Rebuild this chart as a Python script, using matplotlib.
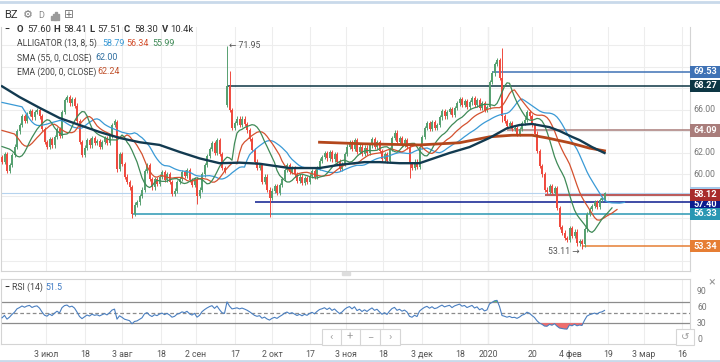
import numpy as np
import matplotlib
matplotlib.use("Agg")
import matplotlib.pyplot as plt
from matplotlib.patches import Rectangle
from matplotlib.transforms import blended_transform_factory

plt.rcParams["font.family"] = ["Roboto", "DejaVu Sans"]

# daily closes of BZ left to right
closes = [
    61.2, 61.9, 60.3, 60.9, 61.8, 62.6, 64.0, 64.6, 65.4, 65.0,
    65.6, 65.9, 65.3, 65.8, 66.0, 65.4, 64.2, 63.0, 62.6, 63.3,
    62.7, 63.5, 64.2, 63.6, 65.8, 66.9, 67.2, 66.6, 67.0, 66.4,
    65.0, 63.0, 61.8, 62.5, 63.2, 62.7, 63.4, 62.9, 63.1, 62.6,
    63.0, 63.4, 62.9, 63.6, 64.6, 65.0, 60.5, 61.9, 61.0, 59.8,
    59.3, 58.8, 56.3, 57.2, 57.4, 58.0, 58.6, 60.3, 60.9, 59.6,
    58.8, 59.6, 59.1, 59.8, 60.2, 59.5, 60.0, 59.3, 58.2, 58.5,
    59.3, 59.6, 60.2, 59.9, 60.4, 59.5, 59.0, 59.6, 58.0, 58.6,
    60.0, 60.9, 61.7, 62.4, 62.9, 62.0, 63.2, 61.9, 60.6, 60.3,
    68.27, 66.0, 64.3, 64.8, 65.2, 64.6, 65.2, 64.7, 64.1, 63.3,
    62.3, 61.2, 60.6, 60.9, 59.3, 59.8, 58.6, 57.8, 58.5, 58.9,
    58.3, 59.0, 59.6, 60.4, 60.9, 60.2, 60.6, 60.0, 59.4, 59.8,
    59.2, 59.7, 59.3, 59.9, 60.3, 59.8, 60.6, 61.3, 61.6, 62.0,
    61.5, 62.1, 61.4, 61.9, 61.2, 60.5, 61.0, 61.9, 62.6, 63.0,
    62.4, 63.2, 62.1, 62.6, 61.9, 62.5, 62.0, 62.7, 63.3, 62.6,
    63.0, 62.2, 61.4, 61.9, 61.3, 62.4, 63.4, 63.9, 63.0, 63.4,
    62.8, 63.2, 62.6, 61.0, 60.6, 61.2, 60.7, 62.6, 63.5, 64.3,
    64.8, 64.2, 64.9, 64.3, 64.6, 65.3, 65.9, 65.4, 65.8, 66.1,
    65.5, 66.2, 66.6, 67.0, 66.5, 66.8, 66.3, 66.7, 67.1, 66.5,
    66.9, 66.2, 66.6, 66.0, 66.3, 68.6, 69.4, 70.3, 70.6, 69.0,
    65.4, 65.0, 64.5, 64.8, 64.2, 64.3, 63.8, 64.2, 64.8, 65.1,
    65.8, 65.4, 64.6, 63.8, 62.2, 60.8, 60.0, 58.6, 58.4, 58.9,
    58.3, 58.7, 56.9, 55.1, 54.6, 54.1, 53.9, 55.0, 54.3, 54.7,
    53.6, 53.8, 53.5, 54.9, 56.3, 56.8, 57.1, 57.4, 57.0, 57.6,
    57.8, 58.30,
]
first_open = 61.6
open_gaps = {46: 64.9, 90: 66.5, 91: 68.2, 241: 57.60}
high_marks = {90: 71.95, 91: 69.6, 200: 71.75, 241: 58.41}
low_marks = {46: 60.2, 52: 55.96, 78: 57.3, 90: 66.3, 107: 56.05,
             163: 59.7, 200: 64.9, 232: 53.11, 241: 57.51}

# alligator lines at the left edge of the chart (seed values)
jaw_seed, teeth_seed, lips_seed = 66.7, 64.1, 62.6

# SMA 55 and EMA 200 (bar index, value)
sma_idx = [0, 7, 15, 23, 31, 39, 47, 55, 63, 71, 79, 87, 95, 103, 115, 127, 135,
           145, 151, 159, 167, 179, 187, 195, 202, 207, 212, 219, 223, 228, 231, 236, 241]
sma_vals = [68.2, 67.2, 66.2, 65.25, 64.6, 63.95, 63.4, 63.0, 62.75, 62.1, 61.5, 61.05,
            61.1, 61.0, 60.6, 60.6, 60.9, 61.15, 61.15, 61.05, 61.05, 62.0, 62.55, 63.4,
            64.3, 64.6, 64.7, 64.4, 64.05, 63.5, 63.2, 62.55, 62.0]
ema_idx = [127, 145, 167, 175, 183, 195, 204, 212, 218, 222, 227, 235, 241]
ema_vals = [63.0, 62.85, 62.75, 62.85, 62.95, 63.5, 63.65, 63.65, 63.4, 63.2, 62.95,
            62.45, 62.2]

# price levels drawn on the chart: (price, first bar, colour)
levels = [(69.53, 196, "#3f72b5"), (68.27, 90, "#0d3644"), (64.09, 202, "#a97d7b"),
          (57.40, 101, "#0c1b8e"), (56.33, 52, "#2a97b3"), (53.34, 232, "#e67e34"),
          (58.12, 217, "#a82c2c")]
last_price = 58.30
scale_labels = [60, 62, 66]

xtick_pos = [17.6, 33.2, 48, 63.6, 77.6, 93.2, 108, 123.2, 137.6, 152.4, 168, 183.2,
             194.4, 212, 227.2, 242.4, 256.8, 272]
xtick_labels = ["3 июл", "18", "3 авг", "18", "2 сен", "17", "2 окт", "17", "3 ноя",
                "18", "3 дек", "18", "2020", "20", "4 фев", "19", "3 мар", "16"]

UP, DOWN = "#56a070", "#ef4a3e"
JAW, TEETH, LIPS = "#3a9ad6", "#d4512f", "#3f8a57"

W, H = 720, 362
fig = plt.figure(figsize=(W / 100, H / 100), dpi=100)


def box(l, t, r, b):
    return [l / W, 1 - b / H, (r - l) / W, (b - t) / H]


def put(px, py, s, **kw):
    kw.setdefault("size", 6.5)
    kw.setdefault("color", "#333333")
    fig.text(px / W, 1 - py / H, s, va="center", **kw)


ax = fig.add_axes(box(1, 27, 690, 271))
ax_r = fig.add_axes(box(1, 279, 690, 344))

# candles
n = len(closes)
idx = np.arange(n)
c = np.array(closes)
o = np.r_[first_open, c[:-1]]
for k, v in open_gaps.items():
    o[k] = v
hi = np.maximum(o, c) + 0.2
lo = np.minimum(o, c) - 0.2
for k, v in high_marks.items():
    hi[k] = v
for k, v in low_marks.items():
    lo[k] = v
col = np.where(c >= o, UP, DOWN)
ax.vlines(idx, lo, hi, colors=col, lw=0.7, zorder=3)
ax.bar(idx, np.maximum(np.abs(c - o), 0.07), bottom=np.minimum(o, c), width=0.62,
       color=col, lw=0, zorder=3)


def smma(values, period, seed):
    out, s = [], seed
    for v in values:
        s = (s * (period - 1) + v) / period
        out.append(s)
    return np.array(out)


median = (hi + lo) / 2
for period, shift, seed, color in [(13, 8, jaw_seed, JAW), (8, 5, teeth_seed, TEETH),
                                   (5, 3, lips_seed, LIPS)]:
    line = smma(median, period, seed)
    ax.plot(np.r_[0, idx + shift], np.r_[seed, line], color=color, lw=0.9, zorder=4)

ax.plot(sma_idx, sma_vals, color="#123a50", lw=1.7, zorder=4.5)
ax.plot(ema_idx, ema_vals, color="#b3471c", lw=2.0, zorder=4.4)

xmax = 275.2
ax.hlines(last_price, -1, xmax, color="#b6d3ee", lw=0.8, zorder=2)
for price, start, color in levels:
    ax.hlines(price, start, xmax, color=color, lw=1.1, zorder=2.6)

ax.set_xlim(-0.4, xmax)
ax.set_ylim(51.03, 73.71)
ax.set_xticks(xtick_pos)
ax.set_yticks(np.arange(52, 74, 2))
ax.tick_params(length=0, labelbottom=False, labelleft=False)
ax.grid(True, color="#ededed", lw=0.8, zorder=0)
ax.axvline(194.4, color="#b8b8b8", lw=0.8, zorder=1)
for side, sp in ax.spines.items():
    sp.set_color("#d4d4d4")
    sp.set_linewidth(0.8)
ax.spines["top"].set_visible(False)

ax.text(90.9, 71.95, "← 71.95", size=6.3, color="#555555", va="center", zorder=6)
ax.text(231.2, 52.85, "53.11 →", size=6.3, color="#555555", va="center", ha="right",
        zorder=6)

# right-hand price scale and level tags
bt = blended_transform_factory(fig.transFigure, ax.transData)
for v in scale_labels:
    ax.text(693 / W, v, f"{v:.2f}", transform=bt, size=6.3, color="#777777",
            va="center", zorder=2, clip_on=False)
tags = [(p, col_) for p, _, col_ in levels]
tags.insert(6, (last_price, "#a6c9ea"))
for price, color in tags:
    ax.add_patch(Rectangle((690 / W, price - 0.56), 30 / W, 1.12, transform=bt,
                           facecolor=color, edgecolor="none", clip_on=False, zorder=5))
for price, color in tags:
    if price in (last_price, 57.40):
        continue
    ax.text(705 / W, price, f"{price:.2f}", transform=bt, size=6.6, color="white",
            ha="center", va="center", weight="bold", zorder=6, clip_on=False)
# 57.40 tag sits under the 58.12 one, only its lower half shows
ax.text(705 / W, 57.22, "57.40", transform=bt, size=6.6, color="white",
        ha="center", va="center", weight="bold", zorder=5.5, clip_on=False)
ax.add_patch(Rectangle((690 / W, 58.12 - 0.56), 30 / W, 1.12, transform=bt,
                       facecolor="#a82c2c", edgecolor="none", clip_on=False, zorder=5.8))

# RSI panel
gains = np.clip(np.diff(c, prepend=c[0]), 0, None)
losses = np.clip(-np.diff(c, prepend=c[0]), 0, None)
ag, al = 0.28, 0.42
rsi = []
for g, l in zip(gains, losses):
    ag = (ag * 13 + g) / 14
    al = (al * 13 + l) / 14
    rsi.append(100 - 100 / (1 + ag / al))
rsi = np.array(rsi)

ax_r.plot(idx, rsi, color="#4a7fc0", lw=0.8, zorder=4)
ax_r.fill_between(idx, rsi, 70, where=rsi > 70, interpolate=True, color="#56c95a",
                  lw=0, zorder=3)
ax_r.fill_between(idx, rsi, 30, where=rsi < 30, interpolate=True, color="#ef6f6f",
                  lw=0, zorder=3)
ax_r.axhline(70, color="#8c8c8c", lw=0.9, zorder=2)
ax_r.axhline(30, color="#8c8c8c", lw=0.9, zorder=2)
ax_r.axhline(50, color="#8c8c8c", lw=0.9, ls=(0, (3, 2)), zorder=2)
ax_r.axvline(194.4, color="#b8b8b8", lw=0.8, zorder=1)
ax_r.set_xlim(-0.4, xmax)
ax_r.set_ylim(-9.45, 113.4)
ax_r.set_xticks(xtick_pos, labels=xtick_labels)
ax_r.set_yticks([])
ax_r.tick_params(axis="x", length=0, labelsize=6.3, labelcolor="#555555", pad=4)
ax_r.grid(True, axis="x", color="#ededed", lw=0.8, zorder=0)
for sp in ax_r.spines.values():
    sp.set_color("#d4d4d4")
    sp.set_linewidth(0.8)
bt_r = blended_transform_factory(fig.transFigure, ax_r.transData)
for v in (90, 60, 30, 0):
    ax_r.text(697 / W, v, str(v), transform=bt_r, size=6.2, color="#777777",
              va="center", clip_on=False)

# toolbar and legend texts
put(4, 15, "BZ", size=8)
put(23, 15, "⚙", size=8, color="#7a7a7a")
put(38, 16, "D", size=6.5, color="#8a8a8a")
for k, hgt in enumerate([4, 6, 8, 5]):
    fig.add_artist(Rectangle(((51 + 2.2 * k) / W, 1 - 19.5 / H), 1.3 / W, hgt / H,
                             transform=fig.transFigure, color="#9a9a9a"))
put(64, 15, "⊞", size=8.5, color="#7a7a7a")

put(4, 29, "−", weight="bold")
for px, s, bold in [(17, "O", True), (27, "57.60", False), (53, "H", True),
                    (63, "58.41", False), (89, "L", True), (97, "57.51", False),
                    (124, "C", True), (134, "58.30", False), (162, "V", True),
                    (170, "10.4k", False)]:
    put(px, 29, s, size=6.8, weight="bold" if bold else "normal")
put(17, 43, "ALLIGATOR (13, 8, 5)", size=6.2, color="#444444")
put(102, 43, "58.79", size=6.4, color=JAW)
put(126, 43, "56.34", size=6.4, color=TEETH)
put(152, 43, "55.99", size=6.4, color=LIPS)
put(17, 58, "SMA (55, 0, CLOSE)", size=6.2, color="#444444")
put(95, 58, "62.00", size=6.4, color="#2f6e9f")
put(17, 72, "EMA (200, 0, CLOSE)", size=6.2, color="#444444")
put(97, 72, "62.24", size=6.4, color="#c0502a")

put(4, 287, "−", weight="bold", size=6.5)
put(12, 287, "RSI (14)", size=6.3, color="#444444")
put(45, 287, "51.5", size=6.3, color="#3b78c2")
put(708, 282, "×", size=9, color="#9a9a9a")

# navigation buttons in the RSI pane
fig.add_artist(Rectangle((322 / W, 1 - 345 / H), 78 / W, 16 / H, transform=fig.transFigure,
                         facecolor="white", edgecolor="#d6d6d6", lw=0.8))
for px in (341, 360, 380):
    fig.add_artist(plt.Line2D([px / W, px / W], [1 - 345 / H, 1 - 329 / H],
                              transform=fig.transFigure, color="#d6d6d6", lw=0.8))
for px, s in [(331, "‹"), (350, "+"), (370, "−"), (390, "›")]:
    fig.text(px / W, 1 - 337 / H, s, ha="center", va="center", size=8, color="#a0a0a0")
fig.add_artist(Rectangle((676 / W, 1 - 345 / H), 18 / W, 16 / H, transform=fig.transFigure,
                         facecolor="white", edgecolor="#d6d6d6", lw=0.8))
fig.text(685 / W, 1 - 337 / H, "↺", ha="center", va="center", size=7.5, color="#a0a0a0")
fig.add_artist(Rectangle((342 / W, 1 - 275 / H), 8 / W, 3 / H, transform=fig.transFigure,
                         color="#dddddd"))

# widget frame
for py in (1.5, 360.5):
    fig.add_artist(plt.Line2D([0, 1], [1 - py / H, 1 - py / H], transform=fig.transFigure,
                              color="#c9d9ea", lw=2))

fig.savefig("out.png", dpi=100, facecolor="white")
